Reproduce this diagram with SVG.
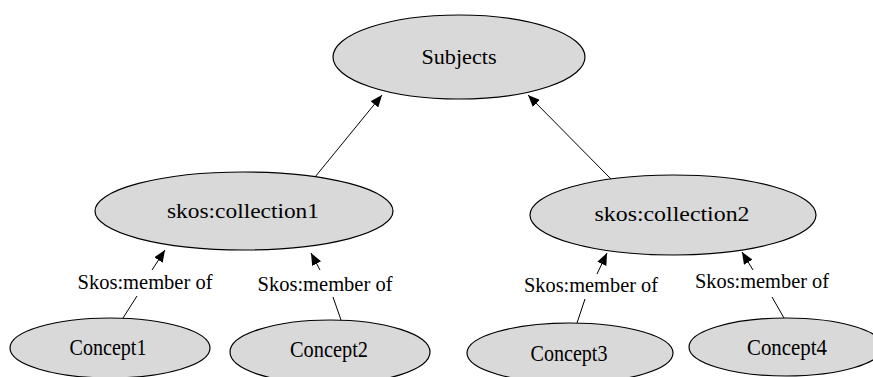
<svg xmlns="http://www.w3.org/2000/svg" width="873" height="377" viewBox="0 0 873 377">
<defs>
<marker id="arr" viewBox="0 0 12 10" refX="12" refY="5" markerWidth="12" markerHeight="10" markerUnits="userSpaceOnUse" orient="auto">
<path d="M0,0 L12,5 L0,10 z" fill="#000"/>
</marker>
<style>
.node ellipse{fill:#d9d9d9;stroke:#000;stroke-width:1.2}
.t{font-family:"Liberation Serif","DejaVu Serif",serif;font-size:20px;fill:#000;text-anchor:middle}
.c{font-family:"Liberation Serif","DejaVu Serif",serif;font-size:23px;fill:#000;text-anchor:middle}
.e line{stroke:#000;stroke-width:1}
</style>
</defs>
<rect width="873" height="377" fill="#fff"/>
<g id="connectors" class="e">
<line x1="315" y1="177" x2="382" y2="95" marker-end="url(#arr)"/>
<line x1="611" y1="179" x2="528" y2="95" marker-end="url(#arr)"/>
<line x1="152" y1="270" x2="165" y2="250" marker-end="url(#arr)"/>
<line x1="137" y1="296" x2="123" y2="318"/>
<line x1="320" y1="270" x2="311" y2="253" marker-end="url(#arr)"/>
<line x1="333" y1="297" x2="341" y2="320"/>
<line x1="597" y1="274" x2="607" y2="253" marker-end="url(#arr)"/>
<line x1="585" y1="299" x2="577" y2="323"/>
<line x1="753" y1="270" x2="742" y2="252" marker-end="url(#arr)"/>
<line x1="772" y1="297" x2="784" y2="318"/>
<text class="t" x="145" y="289" textLength="135" lengthAdjust="spacingAndGlyphs">Skos:member of</text>
<text class="t" x="325" y="291" textLength="135" lengthAdjust="spacingAndGlyphs">Skos:member of</text>
<text class="t" x="591" y="292" textLength="134" lengthAdjust="spacingAndGlyphs">Skos:member of</text>
<text class="t" x="762" y="288" textLength="134" lengthAdjust="spacingAndGlyphs">Skos:member of</text>
</g>
<g id="subjects" class="node">
<ellipse cx="459" cy="57" rx="126" ry="42"/>
<text class="t" x="459" y="64" textLength="75" lengthAdjust="spacingAndGlyphs">Subjects</text>
</g>
<g id="collection1" class="node">
<ellipse cx="244" cy="211" rx="149" ry="39"/>
<text class="t" x="243" y="218" textLength="152" lengthAdjust="spacingAndGlyphs">skos:collection1</text>
</g>
<g id="collection2" class="node">
<ellipse cx="673" cy="215" rx="143" ry="40"/>
<text class="t" x="672" y="221" textLength="155" lengthAdjust="spacingAndGlyphs">skos:collection2</text>
</g>
<g id="concept1" class="node">
<ellipse cx="110" cy="348" rx="100" ry="30"/>
<text class="c" x="108" y="355" textLength="77" lengthAdjust="spacingAndGlyphs">Concept1</text>
</g>
<g id="concept2" class="node">
<ellipse cx="330" cy="352" rx="100" ry="32"/>
<text class="c" x="329" y="357" textLength="78" lengthAdjust="spacingAndGlyphs">Concept2</text>
</g>
<g id="concept3" class="node">
<ellipse cx="570" cy="353" rx="103" ry="30"/>
<text class="c" x="569" y="361" textLength="77" lengthAdjust="spacingAndGlyphs">Concept3</text>
</g>
<g id="concept4" class="node">
<ellipse cx="786" cy="347" rx="97" ry="29"/>
<text class="c" x="787" y="355" textLength="80" lengthAdjust="spacingAndGlyphs">Concept4</text>
</g>
</svg>
